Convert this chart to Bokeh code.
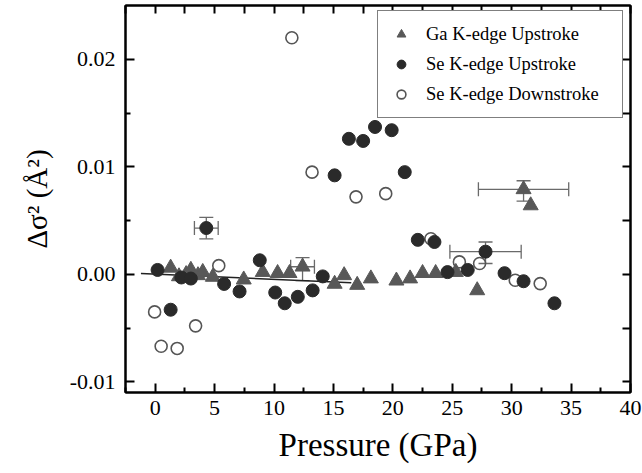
from bokeh.plotting import figure
from bokeh.models import (LinearAxis, FixedTicker, PrintfTickFormatter, Whisker, TeeHead,
                          ColumnDataSource, Legend, LegendItem)
from bokeh.embed import file_html
from bokeh.resources import INLINE

# ---------------- data ----------------
ga_x = [1.3, 2.0, 2.6, 3.0, 3.6, 4.0, 4.85, 7.45, 9.05, 10.3, 11.3, 12.4, 15.1, 15.9,
        17.0, 18.15, 20.3, 21.45, 22.5, 23.6, 25.3, 27.1, 31.0, 31.6]
ga_y = [0.0006, -0.0002, 0.0000, 0.0004, -0.0001, 0.0002, -0.00025, -0.0005, 0.0002,
        0.0001, 0.0001, 0.0007, -0.0009, -0.0001, -0.0010, -0.0004, -0.0006, -0.0004,
        0.0001, 0.0001, 0.0002, -0.0015, 0.0079, 0.0064]

se_up_x = [0.2, 1.3, 2.2, 3.0, 4.3, 5.8, 7.1, 8.8, 10.1, 10.9, 12.0, 13.25, 14.1, 15.1,
           16.3, 17.5, 18.5, 19.9, 21.0, 22.1, 23.5, 24.6, 26.3, 27.8, 29.4, 31.0, 33.6]
se_up_y = [0.0004, -0.0033, -0.0003, -0.0004, 0.0043, -0.0009, -0.0016, 0.0013, -0.0017,
           -0.0027, -0.0021, -0.0015, -0.0002, 0.0092, 0.0126, 0.0124, 0.0137, 0.0134,
           0.0095, 0.0032, 0.0030, 0.0002, 0.0004, 0.0021, 0.0001, -0.00065, -0.0027]

se_dn_x = [-0.05, 0.5, 1.85, 3.4, 5.35, 11.5, 13.2, 16.9, 19.4, 23.2, 25.6, 27.3, 30.3, 32.4]
se_dn_y = [-0.0035, -0.0067, -0.0069, -0.0048, 0.0008, 0.0220, 0.0095, 0.0072, 0.0075,
           0.0033, 0.00115, 0.0010, -0.00056, -0.00087]

err_x = [4.3, 12.4, 27.8, 31.0]
err_y = [0.0043, 0.0007, 0.0021, 0.0079]
err_x_lo = [3.3, 11.4, 24.8, 27.2]
err_x_hi = [5.3, 13.4, 30.8, 34.8]
err_y_lo = [0.0033, -0.0006, 0.0010, 0.0068]
err_y_hi = [0.0053, 0.00155, 0.0030, 0.0087]

fit_x = [-1.2, 16.5]
fit_y = [0.00007, -0.00079]

x_ticks = [0, 5, 10, 15, 20, 25, 30, 35, 40]
x_minor = [-2.5, 2.5, 7.5, 12.5, 17.5, 22.5, 27.5, 32.5, 37.5]
y_ticks = [-0.01, 0.0, 0.01, 0.02]
y_minor = [-0.005, 0.005, 0.015]

labels = ["Ga K-edge Upstroke", "Se K-edge Upstroke", "Se K-edge Downstroke"]

FONT = "'Liberation Serif', 'Times New Roman', serif"

# ---------------- figure ----------------
p = figure(width=642, height=473, x_range=(-2.5, 40), y_range=(-0.011, 0.025),
           output_backend="svg", toolbar_location=None,
           min_border_left=125, min_border_right=12, min_border_top=5, min_border_bottom=81)
p.grid.visible = False
p.outline_line_color = "black"
p.outline_line_width = 2
p.background_fill_color = "white"
p.border_fill_color = "white"


def style_axis(ax):
    ax.axis_line_color = "black"
    ax.axis_line_width = 2
    ax.major_tick_line_color = "black"
    ax.major_tick_line_width = 2
    ax.minor_tick_line_color = "black"
    ax.minor_tick_line_width = 2
    ax.major_tick_in = 9
    ax.major_tick_out = 0
    ax.minor_tick_in = 5
    ax.minor_tick_out = 0
    ax.major_label_text_font = FONT
    ax.major_label_text_font_size = "22px"
    ax.major_label_text_color = "black"
    ax.axis_label_text_font = FONT
    ax.axis_label_text_font_size = "33px"
    ax.axis_label_text_font_style = "normal"
    ax.axis_label_text_color = "black"


xa = p.xaxis[0]
xa.ticker = FixedTicker(ticks=x_ticks, minor_ticks=x_minor)
style_axis(xa)
xa.major_label_standoff = 8
xa.axis_label = "Pressure (GPa)"
xa.axis_label_standoff = 9

ya = p.yaxis[0]
ya.ticker = FixedTicker(ticks=y_ticks, minor_ticks=y_minor)
ya.formatter = PrintfTickFormatter(format="%.2f")
style_axis(ya)
ya.major_label_standoff = 10
ya.axis_label = "\u0394\u03c3\u00b2 (\u00c5\u00b2)"
ya.axis_label_text_font_size = "29px"
ya.axis_label_standoff = 14

# top / right frame ticks (no labels): all drawn as minor ticks
top = LinearAxis(ticker=FixedTicker(ticks=[], minor_ticks=sorted(x_ticks + x_minor)))
style_axis(top)
top.minor_tick_in = 8
top.major_label_standoff = 0
top.axis_label_standoff = 0
p.add_layout(top, "above")
right = LinearAxis(ticker=FixedTicker(ticks=[], minor_ticks=sorted(y_ticks + y_minor)))
style_axis(right)
right.minor_tick_in = 8
right.major_label_standoff = 0
right.axis_label_standoff = 0
p.add_layout(right, "right")

# regression line
p.line(fit_x, fit_y, line_color="#222222", line_width=1.6)

# error bars
esrc = ColumnDataSource(dict(x=err_x, y=err_y, xlo=err_x_lo, xhi=err_x_hi,
                             ylo=err_y_lo, yhi=err_y_hi))
ecol = "#6a6a6a"
p.add_layout(Whisker(source=esrc, base="x", lower="ylo", upper="yhi", dimension="height",
                     line_color=ecol, line_width=1.3,
                     upper_head=TeeHead(size=14, line_color=ecol, line_width=1.3),
                     lower_head=TeeHead(size=14, line_color=ecol, line_width=1.3)))
p.add_layout(Whisker(source=esrc, base="y", lower="xlo", upper="xhi", dimension="width",
                     line_color=ecol, line_width=1.3,
                     upper_head=TeeHead(size=14, line_color=ecol, line_width=1.3),
                     lower_head=TeeHead(size=14, line_color=ecol, line_width=1.3)))

r_ga = p.scatter(ga_x, ga_y, marker="triangle", size=15, fill_color="#585858",
                 line_color="#585858", line_width=1)
r_dn = p.scatter(se_dn_x, se_dn_y, marker="circle", size=12, fill_color="white",
                 fill_alpha=0.0, line_color="#555555", line_width=1.6)
r_up = p.scatter(se_up_x, se_up_y, marker="circle", size=13, fill_color="#2a2a2a",
                 line_color="#2a2a2a", line_width=1)

legend = Legend(items=[LegendItem(label=labels[0], renderers=[r_ga]),
                       LegendItem(label=labels[1], renderers=[r_up]),
                       LegendItem(label=labels[2], renderers=[r_dn])],
                location=(252, 274), padding=12, spacing=8,
                label_text_font=FONT, label_text_font_size="18.5px", label_text_color="black",
                label_standoff=14, glyph_width=22, glyph_height=22, label_height=22,
                label_width=184,
                border_line_color="black", border_line_width=1.5,
                background_fill_color="white", background_fill_alpha=1.0)
p.add_layout(legend, "center")

open("out.html", "w").write(file_html(p, INLINE))
